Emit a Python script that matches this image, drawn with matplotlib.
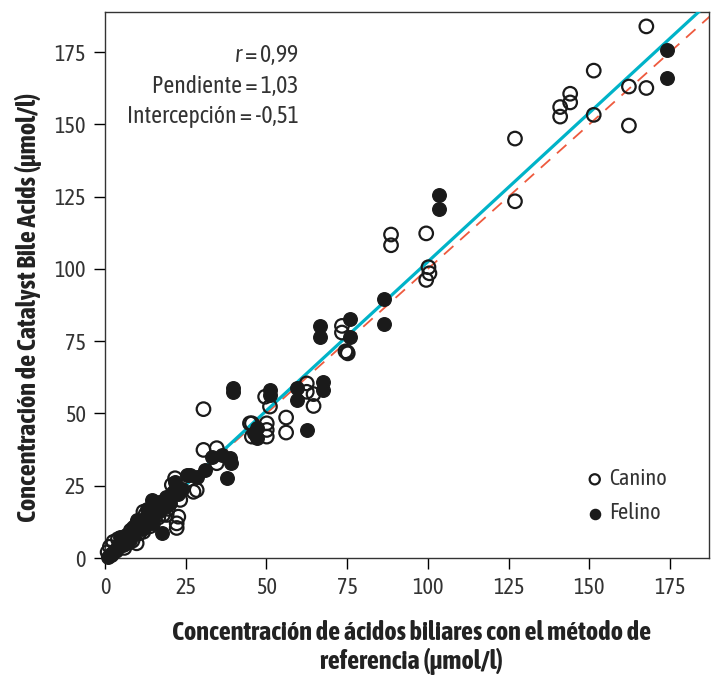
import numpy as np
import matplotlib.pyplot as plt
from matplotlib import font_manager
import matplotlib.patheffects as pe

# =============================================================================
#  Catalyst Bile Acids vs reference method (Canino / Felino)
# =============================================================================

# look for a narrow / condensed sans family, prefer one that has a bold face
fams = {}
for f in font_manager.fontManager.ttflist:
    if ('Narrow' in f.name or 'Condensed' in f.name) and 'Mono' not in f.name \
            and 'Serif' not in f.name:
        w = f.weight if isinstance(f.weight, int) else 700 if 'bold' in str(f.weight) else 400
        fams.setdefault(f.name, set()).add(w)
narrow_family, has_bold = 'Liberation Sans', True
if fams:
    ranked = sorted(fams, key=lambda n: (max(fams[n]) < 700, 400 not in fams[n], len(n)))
    narrow_family = ranked[0]
    has_bold = max(fams[narrow_family]) >= 700
condensed = narrow_family != 'Liberation Sans'
plt.rcParams['font.family'] = [narrow_family, 'DejaVu Sans']
plt.rcParams['mathtext.fontset'] = 'custom'
plt.rcParams['mathtext.it'] = narrow_family + ':italic'
plt.rcParams['mathtext.rm'] = narrow_family
fs = 16 if condensed else 13
lab_fs = 19 if condensed else 15
# fake bold with a stroke when the family has no bold face
bold_fx = [] if has_bold else [pe.withStroke(linewidth=1.1, foreground='#222222')]

# Canino (open circles): reference method, Catalyst
canino_x = [1.5, 2.6, 3.5, 4.5, 5.5, 6.5, 7.5, 8.5, 9.8, 10.5, 11.9, 11.9, 13.0,
            14.0, 15.5, 16.5, 18.0, 19.1, 20.1, 20.7, 21.7, 22.2, 22.2, 22.7,
            23.3, 27.4, 28.4, 30.5, 30.5, 34.6, 34.6, 44.9, 45.5, 45.5, 50.1,
            50.1, 50.1, 51.1, 49.6, 56.1, 56.1, 62.5, 62.5, 64.6, 64.6, 73.4,
            73.4, 74.5, 75.2, 75.0, 88.6, 88.6, 99.5, 100.2, 100.5, 99.5, 127.0,
            127.0, 141.0, 141.0, 144.1, 144.1, 151.4, 151.4, 162.3, 162.3, 167.7,
            167.7, 0.8, 2.0, 4.0, 6.0, 8.0, 10.0, 12.5, 14.5, 17.0, 19.5]
canino_y = [3.9, 5.6, 2.5, 4.5, 6.5, 5.0, 7.0, 6.0, 5.1, 8.5, 9.1, 16.0, 12.0,
            11.0, 15.5, 14.0, 15.0, 14.9, 21.0, 25.3, 27.6, 12.0, 10.4, 14.3,
            20.1, 22.9, 23.5, 51.5, 37.4, 38.0, 32.8, 46.6, 46.6, 42.0, 46.6,
            44.3, 42.0, 52.4, 55.8, 48.6, 43.4, 60.4, 57.5, 56.7, 52.6, 80.3,
            78.0, 71.5, 70.8, 71.2, 111.9, 108.2, 112.3, 100.6, 98.5, 96.2, 145.1,
            123.4, 156.0, 152.7, 160.6, 157.6, 168.6, 153.3, 163.1, 149.6, 183.9,
            162.6, 2.0, 1.0, 6.5, 3.5, 9.5, 12.0, 15.0, 12.5, 19.0, 17.0]

# Felino (filled circles)
felino_x = [0.8, 2.0, 3.0, 4.6, 5.5, 7.7, 8.8, 9.8, 10.5, 11.5, 12.5, 13.5,
            14.5, 15.0, 16.0, 17.0, 17.6, 18.5, 20.0, 21.0, 21.7, 22.5, 24.0,
            25.3, 26.3, 28.4, 31.0, 33.1, 36.1, 37.7, 38.7, 39.0, 39.6, 39.6,
            46.0, 47.0, 47.0, 51.1, 51.1, 59.4, 59.4, 62.7, 66.6, 66.6, 67.5,
            67.5, 75.9, 75.9, 86.5, 86.5, 103.4, 103.4, 174.1, 174.1,
            6.5, 9.0, 11.0, 12.0, 13.0, 14.0, 16.5, 19.0]
felino_y = [0.5, 1.5, 2.8, 7.4, 4.5, 6.2, 10.8, 13.1, 11.0, 10.0, 14.0, 15.5,
            20.1, 12.0, 18.0, 19.5, 8.5, 17.5, 19.0, 23.0, 26.4, 22.0, 24.0,
            28.7, 28.7, 28.1, 30.4, 35.1, 35.6, 27.6, 34.5, 32.8, 58.7, 57.5,
            43.2, 44.9, 41.4, 58.1, 56.4, 58.7, 54.7, 44.3, 80.3, 76.4, 61.0,
            58.1, 82.6, 76.6, 89.5, 81.0, 125.5, 120.9, 175.8, 166.2,
            8.0, 8.5, 12.5, 10.5, 17.0, 12.0, 16.0, 21.0]

r_val, pendiente, intercepcion = 0.99, 1.03, -0.51
ticks = [0, 25, 50, 75, 100, 125, 150, 175]

fig = plt.figure(figsize=(7.13, 6.75), dpi=100)
ax = fig.add_axes([0.1473, 0.1733, 0.8475, 0.809])

xx = np.array([0, 200])
ax.plot(xx, xx, color='#ee5a3e', lw=1.3, dashes=(7, 5), zorder=2)
ax.plot(xx, pendiente * xx + intercepcion, color='#00b3c8', lw=2.3, zorder=3)

ax.scatter(canino_x, canino_y, s=95, facecolor='none', edgecolor='#1a1a1a',
           linewidth=1.6, zorder=4, clip_on=False, label='Canino')
ax.scatter(felino_x, felino_y, s=95, facecolor='#1a1a1a', edgecolor='#1a1a1a',
           linewidth=1.0, zorder=5, clip_on=False, label='Felino')

ax.set_xlim(0, 187.2)
ax.set_ylim(0, 188.9)
ax.set_xticks(ticks)
ax.set_yticks(ticks)
ax.tick_params(direction='out', length=8, width=1, labelsize=fs,
               labelcolor='#333333', pad=6)
for s in ax.spines.values():
    s.set_linewidth(1.0)
    s.set_color('#333333')

ax.set_xlabel('Concentración de ácidos biliares con el método de\nreferencia (μmol/l)',
              fontsize=lab_fs, fontweight='bold', color='#222222',
              linespacing=1.15, path_effects=bold_fx)
ax.xaxis.set_label_coords(0.508, -0.113)
ax.set_ylabel('Concentración de Catalyst Bile Acids (μmol/l)',
              fontsize=lab_fs, fontweight='bold', color='#222222',
              path_effects=bold_fx)
ax.yaxis.set_label_coords(-0.104, 0.46)

ax.text(0.32, 0.921, f'$r$ = {r_val:.2f}'.replace('.', ','), transform=ax.transAxes,
        ha='right', va='center', fontsize=fs + 1, color='#333333')
ax.text(0.32, 0.864, f'Pendiente = {pendiente:.2f}'.replace('.', ','),
        transform=ax.transAxes, ha='right', va='center', fontsize=fs + 1, color='#333333')
ax.text(0.32, 0.808, f'Intercepción = {intercepcion:.2f}'.replace('.', ','),
        transform=ax.transAxes, ha='right', va='center', fontsize=fs + 1, color='#333333')

ax.legend(loc='lower right', bbox_to_anchor=(0.963, 0.025), frameon=False,
          fontsize=fs, handlelength=1.0, handletextpad=0.15, labelspacing=0.55,
          markerscale=0.75, labelcolor='#333333')

fig.savefig('out.png', dpi=100)
